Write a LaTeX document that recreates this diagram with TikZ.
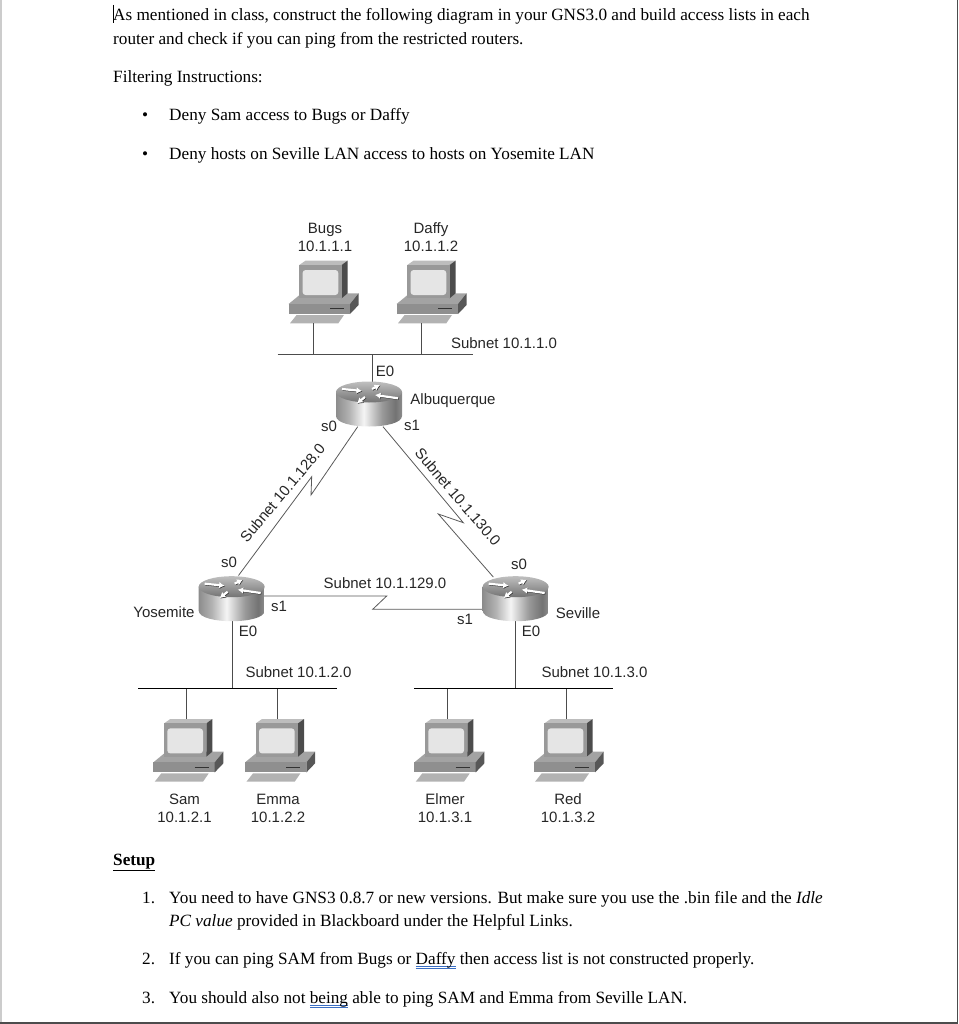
\documentclass[tikz,border=0pt]{standalone}
\usepackage{fontspec}
\setmainfont{Liberation Serif}
\newfontfamily\labelfont{Liberation Sans}
\usepackage{xcolor}
\usetikzlibrary{arrows.meta}

\definecolor{markblue}{HTML}{3B6FC4}
\pgfdeclarehorizontalshading{routershade}{100bp}{color(0bp)=(black!45); color(25bp)=(black!45); color(35bp)=(black!30); color(46bp)=(black!4); color(60bp)=(black!40); color(70bp)=(black!55); color(75bp)=(black!45); color(100bp)=(black!45)}
\newcommand{\spellmark}[1]{\setbox0\hbox{#1}\rlap{\textcolor{markblue}{\rule[-2.5pt]{\wd0}{0.6pt}\hspace{-\wd0}\rule[-4.5pt]{\wd0}{0.6pt}}}#1}

\begin{document}
\begin{tikzpicture}[
  x=1pt, y=-1pt,
  doc/.style={anchor=base west, inner sep=0pt, font=\fontsize{17.2}{20}\selectfont},
  tag/.style={inner sep=0pt, align=center, font=\labelfont\fontsize{15}{18}\selectfont, text=black!85},
  link/.style={draw=black!65, line width=0.8pt},
  stem/.style={draw=black!70, line width=0.8pt},
  bus/.style={draw=black, line width=0.9pt},
  turn/.style={-{Latex[length=5.5pt,width=6.5pt]}, line width=2.2pt},
  pics/computer/.style={code={
    \coordinate (-top) at (22,-62.7);
    \coordinate (-bot) at (14,0);
    \fill[black!36] (-10.7,-19.3) -- (2.3,-30) -- (59.3,-30) -- (50.7,-19.3) -- cycle;
    \fill[black!44] (-10.7,-19.3) rectangle (50.7,-9.3);
    \fill[black!66] (50.7,-19.3) -- (59.3,-30) -- (59.3,-18.3) -- (50.7,-9.3) -- cycle;
    \fill[black!30] (-9.3,0) -- (-2.7,-8.3) -- (44.7,-8.3) -- (39,0) -- cycle;
    \draw[black!80, line width=0.7pt] (30.7,-14.7) -- (44.7,-14.7);
    \fill[black!26] (0,-58.3) -- (6.3,-62.7) -- (48.3,-62.7) -- (42.3,-58.3) -- cycle;
    \fill[black!70] (42.3,-58.3) -- (48.3,-62.7) -- (48.3,-30) -- (42.3,-25) -- cycle;
    \fill[black!40] (0,-58.3) rectangle (42.3,-25);
    \fill[black!10, rounded corners=3pt] (3.3,-53.3) rectangle (39,-28.3);
  }},
  pics/router/.style={code={
    \path[shading=routershade] (-33,0) -- (-33,24) .. controls (-33,38) and (33,38) .. (33,24) -- (33,0) -- cycle;
    \path[top color=black!25, bottom color=black!55] (0,0) ellipse [x radius=33pt, y radius=10.5pt];
    \draw[turn, black!80] (-26.4,-2.4) -- (-6.4,-0.4);
    \draw[turn, white] (-27,-3) -- (-7,-1);
    \draw[turn, black!80] (3.6,-2.4) -- (11.6,-6.4);
    \draw[turn, white] (3,-3) -- (11,-7);
    \draw[turn, black!80] (29.6,6.9) -- (6.6,3.6);
    \draw[turn, white] (29,6.3) -- (6,3);
    \draw[turn, black!80] (-3.4,5.6) -- (-11.4,11.9);
    \draw[turn, white] (-4,5) -- (-12,11.3);
  }}
]
\useasboundingbox (0,0) rectangle (958,1024);

% page edge
\fill[black!20] (0,0) rectangle (2,1024);
\fill[black!70] (957,0) rectangle (958,1024);
\fill[black!70] (0,1021.5) rectangle (958,1024);
\draw[black, line width=0.8pt] (113.5,5) -- (113.5,23);

% text above the diagram
\node[doc] (introA) at (113,21) {As mentioned in class, construct the following diagram in your GNS3.0 and build access lists in each};
\node[doc] (introB) at (113,45) {router and check if you can ping from the restricted routers.};
\node[doc] (filter) at (113,83) {Filtering Instructions:};
\node[doc] (dotA) at (142,121) {•};
\node[doc] (ruleA) at (169,121) {Deny Sam access to Bugs or Daffy};
\node[doc] (dotB) at (142,159.5) {•};
\node[doc] (ruleB) at (169,159.5) {Deny hosts on Seville LAN access to hosts on Yosemite LAN};

% ports and breaks of the serial links
\coordinate (albS0) at (357.7,426.7);
\coordinate (albS1) at (383,426.7);
\coordinate (albE0) at (372.3,384);
\coordinate (yosS0) at (238.5,575.5);
\coordinate (yosS1) at (264,596);
\coordinate (yosE0) at (232.3,615);
\coordinate (sevS0) at (493.3,577);
\coordinate (sevS1) at (484,609.3);
\coordinate (sevE0) at (515.3,615);
\coordinate (zagLa) at (311,495);
\coordinate (zagLb) at (311.7,476.7);
\coordinate (zagRa) at (463.3,522.7);
\coordinate (zagRb) at (438.3,514);
\coordinate (zagBa) at (386.7,596);
\coordinate (zagBb) at (372.7,609.3);
\coordinate (busAl) at (277.5,354);
\coordinate (busAr) at (472.5,354);
\coordinate (busYl) at (138.3,688.3);
\coordinate (busYr) at (337.3,688.3);
\coordinate (busSl) at (414,688.3);
\coordinate (busSr) at (613.3,688.3);

% links
\draw[link] (albS0) -- (zagLa) -- (zagLb) -- (yosS0);
\draw[link] (albS1) -- (zagRa) -- (zagRb) -- (sevS0);
\draw[link] (yosS1) -- (zagBa) -- (zagBb) -- (sevS1);
\draw[stem] (albE0) -- (albE0 |- busAl);
\draw[stem] (yosE0) -- (yosE0 |- busYl);
\draw[stem] (sevE0) -- (sevE0 |- busSl);

% routers
\pic (alb) at (369,392) {router};
\pic (yos) at (231.7,586.7) {router};
\pic (sev) at (515.7,586.7) {router};

% computers
\pic (bugs) at (299.3,323.3) {computer};
\pic (daffy) at (407.3,323.3) {computer};
\pic (sam) at (164,781.7) {computer};
\pic (emma) at (255.7,781.7) {computer};
\pic (elmer) at (425,781.7) {computer};
\pic (red) at (544.3,781.7) {computer};

\draw[stem] (bugs-bot) -- (bugs-bot |- busAl);
\draw[stem] (daffy-bot) -- (daffy-bot |- busAl);
\draw[stem] (sam-top) -- (sam-top |- busYl);
\draw[stem] (emma-top) -- (emma-top |- busYl);
\draw[stem] (elmer-top) -- (elmer-top |- busSl);
\draw[stem] (red-top) -- (red-top |- busSl);
\draw[bus, black!70] (busAl) -- (busAr);
\draw[bus] (busYl) -- (busYr);
\draw[bus] (busSl) -- (busSr);

% labels
\node[tag] (bugsTag) at (325,237) {Bugs\\10.1.1.1};
\node[tag] (daffyTag) at (431,237) {Daffy\\10.1.1.2};
\node[tag] (samTag) at (184.5,808) {Sam\\10.1.2.1};
\node[tag] (emmaTag) at (278,808) {Emma\\10.1.2.2};
\node[tag] (elmerTag) at (445,808) {Elmer\\10.1.3.1};
\node[tag] (redTag) at (568,808) {Red\\10.1.3.2};
\node[tag] (netA) at (504,343) {Subnet 10.1.1.0};
\node[tag] (netY) at (298.5,672) {Subnet 10.1.2.0};
\node[tag] (netS) at (594.5,672) {Subnet 10.1.3.0};
\node[tag] (netB) at (385,583) {Subnet 10.1.129.0};
\node[tag, rotate=50] (netL) at (282.5,493) {Subnet 10.1.128.0};
\node[tag, rotate=-49.5] (netR) at (458,497) {Subnet 10.1.130.0};
\node[tag] (albName) at (453,400.5) {Albuquerque};
\node[tag] (yosName) at (164,612) {Yosemite};
\node[tag] (sevName) at (578,613) {Seville};
\node[tag] (albE0Tag) at (385,371) {E0};
\node[tag] (albS0Tag) at (329,426) {s0};
\node[tag] (albS1Tag) at (412,425) {s1};
\node[tag] (yosS0Tag) at (229,562) {s0};
\node[tag] (yosS1Tag) at (279,606) {s1};
\node[tag] (yosE0Tag) at (248,631) {E0};
\node[tag] (sevS0Tag) at (519,564) {s0};
\node[tag] (sevS1Tag) at (465,619) {s1};
\node[tag] (sevE0Tag) at (531,631) {E0};

% text below the diagram
\node[doc] (setup) at (113,865) {\textbf{\underline{Setup}}};
\node[doc] (numA) at (142,903) {1.};
\node[doc] (stepA) at (169,903) {You need to have GNS3 0.8.7 or new versions. But make sure you use the .bin file and the \textit{Idle}};
\node[doc] (stepAb) at (169,926) {\textit{PC value} provided in Blackboard under the Helpful Links.};
\node[doc] (numB) at (142,964) {2.};
\node[doc] (stepB) at (169,964) {If you can ping SAM from Bugs or \spellmark{Daffy} then access list is not constructed properly.};
\node[doc] (numC) at (142,1003) {3.};
\node[doc] (stepC) at (169,1003) {You should also not \spellmark{being} able to ping SAM and Emma from Seville LAN.};
\end{tikzpicture}
\end{document}
